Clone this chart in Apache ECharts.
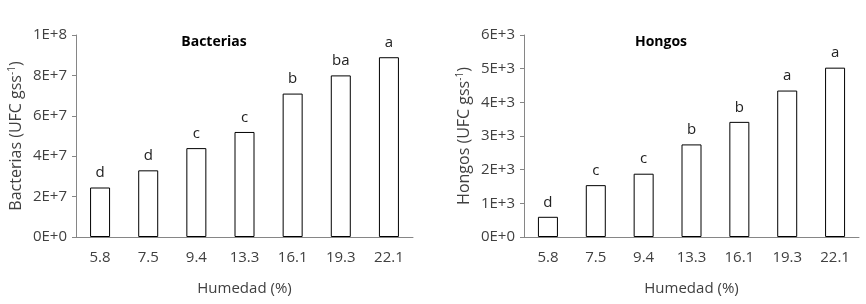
<!DOCTYPE html>
<html>
<head>
<meta charset="utf-8">
<script src="https://cdn.jsdelivr.net/npm/echarts@6/dist/echarts.min.js"></script>
<style>
  html, body { margin: 0; padding: 0; background: #fff; }
  #chart { width: 866px; height: 304px; }
</style>
</head>
<body>
<div id="chart"></div>
<script>
  // data
  const humedad = ['5.8', '7.5', '9.4', '13.3', '16.1', '19.3', '22.1'];
  const bacterias = [2.45e7, 3.3e7, 4.4e7, 5.2e7, 7.1e7, 8.0e7, 8.9e7];
  const bacteriasLetras = ['d', 'd', 'c', 'c', 'b', 'ba', 'a'];
  const hongos = [600, 1540, 1880, 2750, 3420, 4350, 5030];
  const hongosLetras = ['d', 'c', 'c', 'b', 'b', 'a', 'a'];

  const font = 'Open Sans';
  const txt = '#404040';
  const axisGrey = '#868686';

  function sci(v) {
    if (v === 0) return '0E+0';
    let e = Math.floor(Math.log10(v) + 1e-9);
    let m = Math.round(v / Math.pow(10, e));
    return m + 'E+' + e;
  }

  function xAxis(idx) {
    return {
      type: 'category',
      gridIndex: idx,
      data: humedad,
      name: 'Humedad (%)',
      nameLocation: 'middle',
      nameGap: 44,
      nameTextStyle: { fontFamily: font, fontSize: 15, color: txt },
      axisLine: { lineStyle: { color: axisGrey, width: 1 } },
      axisTick: { alignWithLabel: true, length: 4, lineStyle: { color: axisGrey } },
      axisLabel: { fontFamily: font, fontSize: 15, color: txt, margin: 13 }
    };
  }

  function yAxis(idx, max, interval, label) {
    return {
      type: 'value',
      gridIndex: idx,
      min: 0,
      max: max,
      interval: interval,
      name: '{a|' + label + ' (UFC gss}{s|-1}{a|)}',
      nameLocation: 'middle',
      nameGap: 50,
      nameRotate: 90,
      nameTextStyle: {
        rich: {
          a: { fontFamily: font, fontSize: 16, color: txt },
          s: { fontFamily: font, fontSize: 10, color: txt, verticalAlign: 'top', padding: [0, 0, 9, 0] }
        }
      },
      splitLine: { show: false },
      axisLine: { show: true, lineStyle: { color: axisGrey, width: 1 } },
      axisTick: { show: true, inside: false, length: 4, lineStyle: { color: axisGrey } },
      axisLabel: { fontFamily: font, fontSize: 15, color: txt, margin: 9, formatter: sci }
    };
  }

  function barSeries(idx, values, letters) {
    return {
      type: 'bar',
      xAxisIndex: idx,
      yAxisIndex: idx,
      data: values,
      barWidth: 20,
      itemStyle: { color: '#fff', borderColor: '#000', borderWidth: 1 },
      label: {
        show: true,
        position: 'top',
        distance: 7,
        fontFamily: font,
        fontSize: 15,
        color: '#222',
        formatter: p => letters[p.dataIndex]
      }
    };
  }

  const chart = echarts.init(document.getElementById('chart'), null, { renderer: 'canvas' });
  chart.setOption({
    animation: false,
    backgroundColor: '#fff',
    title: [
      { text: 'Bacterias', left: 209, top: 30, textAlign: 'center',
        textStyle: { fontFamily: font, fontSize: 14, fontWeight: 'bold', color: '#000' } },
      { text: 'Hongos', left: 656, top: 30, textAlign: 'center',
        textStyle: { fontFamily: font, fontSize: 14, fontWeight: 'bold', color: '#000' } }
    ],
    grid: [
      { left: 76, right: 453, top: 35, bottom: 67 },
      { left: 524, right: 7, top: 35, bottom: 67 }
    ],
    xAxis: [xAxis(0), xAxis(1)],
    yAxis: [yAxis(0, 1e8, 2e7, 'Bacterias'), yAxis(1, 6000, 1000, 'Hongos')],
    series: [barSeries(0, bacterias, bacteriasLetras), barSeries(1, hongos, hongosLetras)]
  });
</script>
</body>
</html>
